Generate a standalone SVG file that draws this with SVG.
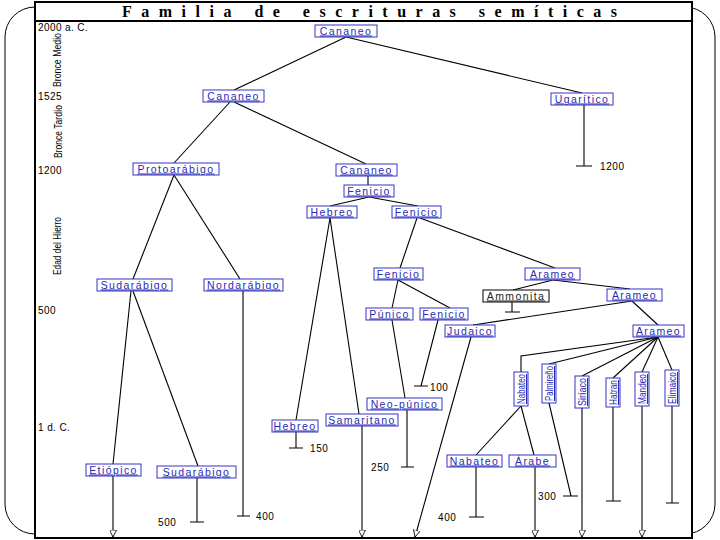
<svg xmlns="http://www.w3.org/2000/svg" width="720" height="540" viewBox="0 0 720 540">
<style>
.frame{fill:none;stroke:#000;stroke-width:1}
.main{fill:#fff;stroke:#000;stroke-width:2}
.title{font-family:"Liberation Serif",serif;font-weight:bold;font-size:16px;fill:#000}
.ax{font-family:"Liberation Sans",Arial,sans-serif;font-size:10px;fill:#000;letter-spacing:0.4px}
.axr{font-family:"Liberation Sans",Arial,sans-serif;font-size:11.5px;fill:#000}
.n rect{fill:#fff;stroke:#3434c8;stroke-width:1}
.n text{font-family:"Liberation Sans",Arial,sans-serif;font-size:10.5px;fill:#2a2ab4;text-decoration:underline;text-anchor:middle;letter-spacing:1.4px}
.v text{font-size:11px;letter-spacing:0px}
.blk rect{stroke:#000}
.blk text{fill:#222}
.c path{fill:none;stroke:#000;stroke-width:1.1}
.lb{font-family:"Liberation Sans",Arial,sans-serif;font-size:10px;fill:#000;letter-spacing:0.6px}
</style>
<defs>
<marker id="ar" viewBox="0 0 10 10" refX="10" refY="5" markerWidth="7" markerHeight="7" markerUnits="userSpaceOnUse" orient="auto">
<path d="M0,0 L10,5 L0,10 z" fill="#fff" stroke="#000" stroke-width="1.2"/>
</marker>
</defs>
<rect class="frame" x="5" y="7" width="710" height="527" rx="30"/>
<rect class="main" x="35" y="2" width="657" height="536"/>
<line x1="35" y1="21" x2="692" y2="21" stroke="#000" stroke-width="2"/>
<text class="title" x="122" y="17" textLength="495" lengthAdjust="spacing">Familia de escrituras semíticas</text>

<g id="axis">
<text class="ax" x="38" y="31">2000 a. C.</text>
<text class="ax" x="38" y="100">1525</text>
<text class="ax" x="38" y="174">1200</text>
<text class="ax" x="38" y="314">500</text>
<text class="ax" x="38" y="431">1 d. C.</text>
<text class="axr" transform="translate(61,87) rotate(-90)" textLength="54" lengthAdjust="spacingAndGlyphs">Bronce Medio</text>
<text class="axr" transform="translate(62,158) rotate(-90)" textLength="53" lengthAdjust="spacingAndGlyphs">Bronce Tardío</text>
<text class="axr" transform="translate(61,275) rotate(-90)" textLength="58" lengthAdjust="spacingAndGlyphs">Edad del Hierro</text>
</g>

<g class="c" id="connectors">
<path d="M346,37 L234,90"/>
<path d="M346,37 L582,93"/>
<path d="M584,105 V166 M576,166 H592"/>
<path d="M230,102 L174,163"/>
<path d="M234,102 L366,164"/>
<path d="M368,176 V185"/>
<path d="M369,197 L330,206"/>
<path d="M369,197 L418,206"/>
<path d="M174,175 L133,279"/>
<path d="M174,175 L240,279"/>
<path d="M243,291 V516 M237,516 H250"/>
<path d="M131,291 L113,464"/>
<path d="M133,291 L198,466"/>
<path d="M113,476 V537" marker-end="url(#ar)"/>
<path d="M197,478 V522 M190,522 H204"/>
<path d="M330,218 L296,420"/>
<path d="M330,218 L359,414"/>
<path d="M296,432 V448 M289,448 H303"/>
<path d="M362,426 V537" marker-end="url(#ar)"/>
<path d="M417,218 L400,268"/>
<path d="M420,218 L555,268"/>
<path d="M398,280 L392,308"/>
<path d="M398,280 L450,308"/>
<path d="M392,320 L405,398"/>
<path d="M438,320 L421,386 M414,386 H428"/>
<path d="M407,410 V467 M401,467 H414"/>
<path d="M553,280 L513,290"/>
<path d="M553,280 L630,289"/>
<path d="M512,302 V312 M505,312 H520"/>
<path d="M632,301 L473,325"/>
<path d="M632,301 L658,325"/>
<path d="M471,337 L415,537" marker-end="url(#ar)"/>
<path d="M658,337 L521,356 V372"/>
<path d="M658,337 L549,364"/>
<path d="M658,337 L582,376"/>
<path d="M658,337 L613,378"/>
<path d="M658,337 L642,372"/>
<path d="M658,337 L672,370"/>
<path d="M521,406 L476,455"/>
<path d="M521,406 L534,455"/>
<path d="M549,403 L571,496 M563,496 H578"/>
<path d="M582,408 V537" marker-end="url(#ar)"/>
<path d="M613,407 V501 M606,501 H621"/>
<path d="M642,406 V537" marker-end="url(#ar)"/>
<path d="M672,406 V503 M666,503 H679"/>
<path d="M476,467 V517 M469,517 H484"/>
<path d="M535,467 V537" marker-end="url(#ar)"/>
</g>

<g id="labels">
<text class="lb" x="600" y="170">1200</text>
<text class="lb" x="430" y="391">100</text>
<text class="lb" x="310" y="452">150</text>
<text class="lb" x="371" y="471">250</text>
<text class="lb" x="158" y="526">500</text>
<text class="lb" x="256" y="520">400</text>
<text class="lb" x="438" y="521">400</text>
<text class="lb" x="538" y="500">300</text>
</g>

<g id="n1" class="n"><rect x="315" y="25" width="62" height="12"/><text x="346" y="34.5">Cananeo</text></g>
<g id="n2" class="n"><rect x="203" y="90" width="61" height="12"/><text x="233.5" y="99.5">Cananeo</text></g>
<g id="n3" class="n"><rect x="551" y="93" width="62" height="12"/><text x="582" y="102.5">Ugarítico</text></g>
<g id="n4" class="n"><rect x="133" y="163" width="86" height="12"/><text x="176" y="172.5">Protoarábigo</text></g>
<g id="n5" class="n"><rect x="336" y="164" width="61" height="12"/><text x="366.5" y="173.5">Cananeo</text></g>
<g id="n6" class="n"><rect x="344" y="185" width="50" height="12"/><text x="369" y="194.5">Fenicio</text></g>
<g id="n7" class="n"><rect x="307" y="206" width="50" height="12"/><text x="332" y="215.5">Hebreo</text></g>
<g id="n8" class="n"><rect x="392" y="206" width="49" height="12"/><text x="416.5" y="215.5">Fenicio</text></g>
<g id="n9" class="n"><rect x="97" y="279" width="75" height="12"/><text x="134.5" y="288.5">Sudarábigo</text></g>
<g id="n10" class="n"><rect x="204" y="279" width="79" height="12"/><text x="243.5" y="288.5">Nordarábigo</text></g>
<g id="n11" class="n"><rect x="374" y="268" width="49" height="12"/><text x="398.5" y="277.5">Fenicio</text></g>
<g id="n12" class="n"><rect x="525" y="268" width="55" height="12"/><text x="552.5" y="277.5">Arameo</text></g>
<g id="n13" class="n blk"><rect x="483" y="290" width="66" height="12"/><text x="516" y="299.5">Ammonita</text></g>
<g id="n14" class="n"><rect x="607" y="289" width="55" height="12"/><text x="634.5" y="298.5">Arameo</text></g>
<g id="n15" class="n"><rect x="366" y="308" width="47" height="12"/><text x="389.5" y="317.5">Púnico</text></g>
<g id="n16" class="n"><rect x="420" y="308" width="48" height="12"/><text x="444" y="317.5">Fenicio</text></g>
<g id="n17" class="n"><rect x="445" y="325" width="50" height="12"/><text x="470" y="334.5">Judaico</text></g>
<g id="n18" class="n"><rect x="633" y="325" width="51" height="12"/><text x="658.5" y="334.5">Arameo</text></g>
<g id="n19" class="n"><rect x="367" y="398" width="75" height="12"/><text x="404.5" y="407.5">Neo-púnico</text></g>
<g id="n20" class="n"><rect x="272" y="420" width="46" height="12"/><text x="295" y="429.5">Hebreo</text></g>
<g id="n21" class="n"><rect x="326" y="414" width="72" height="12"/><text x="362" y="423.5">Samaritano</text></g>
<g id="n22" class="n"><rect x="86" y="464" width="55" height="12"/><text x="113.5" y="473.5">Etiópico</text></g>
<g id="n23" class="n"><rect x="157" y="466" width="79" height="12"/><text x="196.5" y="475.5">Sudarábigo</text></g>
<g id="n24" class="n"><rect x="447" y="455" width="55" height="12"/><text x="474.5" y="464.5">Nabateo</text></g>
<g id="n25" class="n"><rect x="509" y="455" width="47" height="12"/><text x="532.5" y="464.5">Árabe</text></g>

<g id="v1" class="n v"><rect x="514" y="372" width="14" height="34"/><text transform="translate(525,389) rotate(-90)" textLength="30" lengthAdjust="spacingAndGlyphs">Nabateo</text></g>
<g id="v2" class="n v"><rect x="542" y="364" width="14" height="39"/><text transform="translate(553,383.5) rotate(-90)" textLength="35" lengthAdjust="spacingAndGlyphs">Palmireño</text></g>
<g id="v3" class="n v"><rect x="575" y="376" width="14" height="32"/><text transform="translate(586,392) rotate(-90)" textLength="28" lengthAdjust="spacingAndGlyphs">Siríaco</text></g>
<g id="v4" class="n v"><rect x="606" y="378" width="14" height="29"/><text transform="translate(617,392.5) rotate(-90)" textLength="25" lengthAdjust="spacingAndGlyphs">Hatran</text></g>
<g id="v5" class="n v"><rect x="635" y="372" width="14" height="34"/><text transform="translate(646,389) rotate(-90)" textLength="30" lengthAdjust="spacingAndGlyphs">Mandeo</text></g>
<g id="v6" class="n v"><rect x="665" y="370" width="14" height="36"/><text transform="translate(676,388) rotate(-90)" textLength="32" lengthAdjust="spacingAndGlyphs">Elimaico</text></g>
</svg>
